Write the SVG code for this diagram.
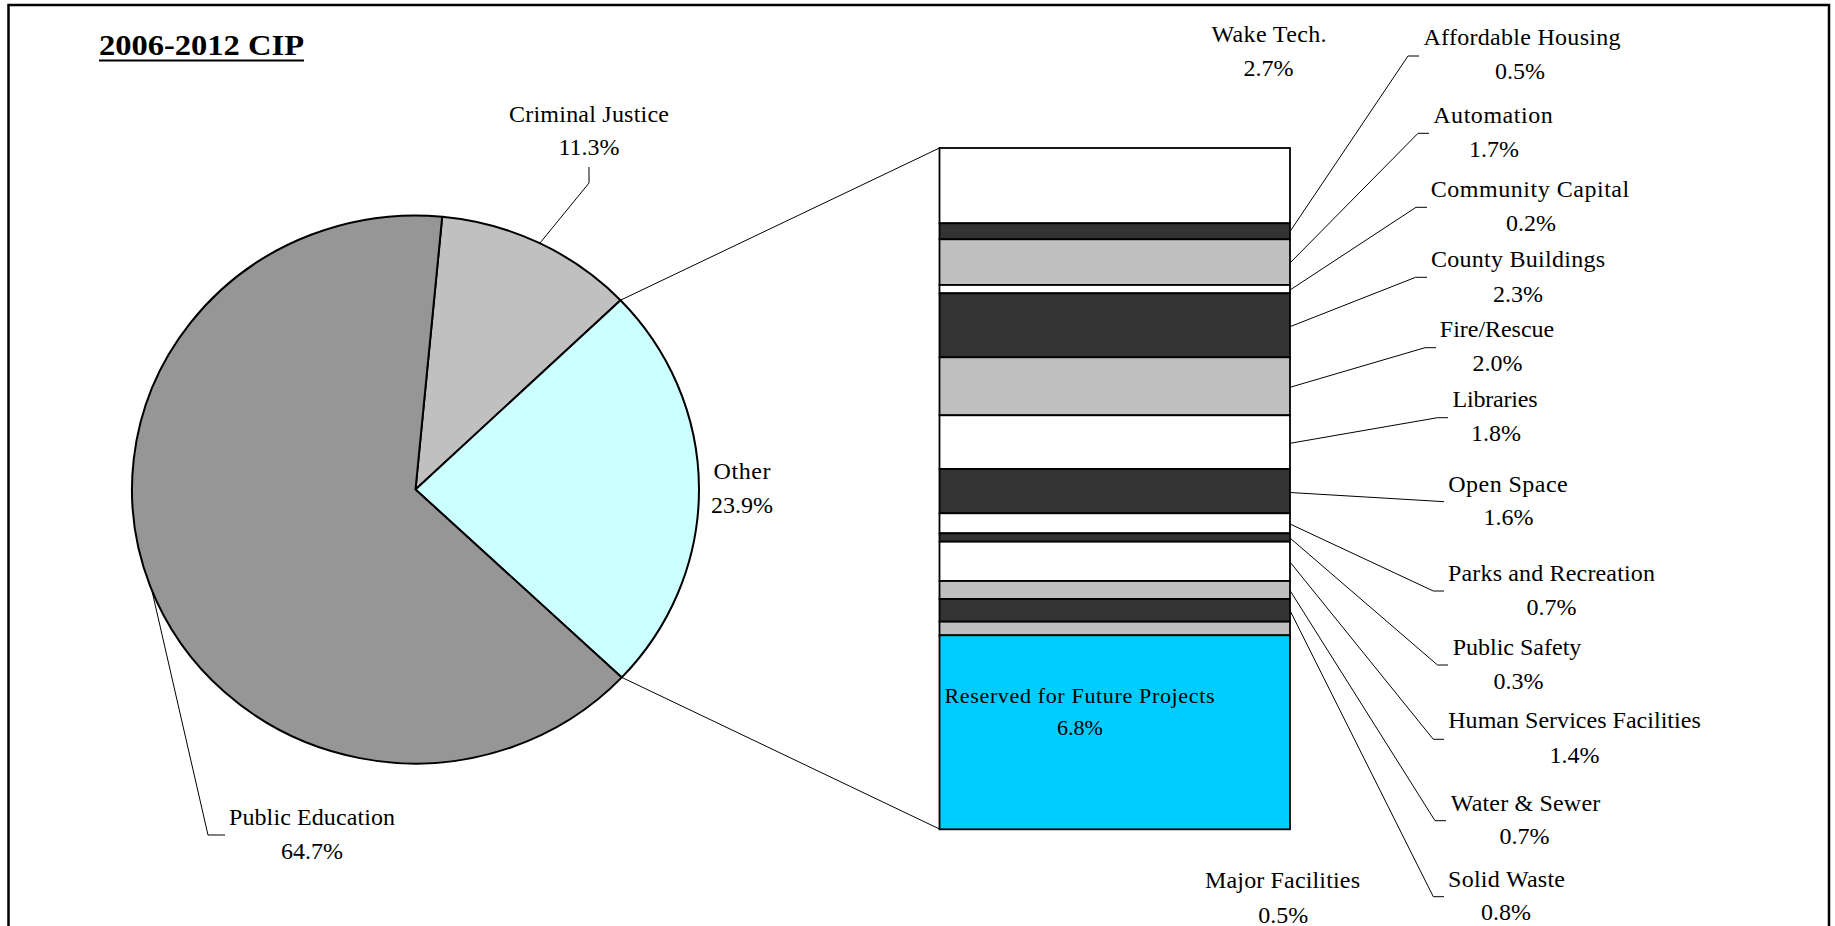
<svg xmlns="http://www.w3.org/2000/svg" width="1835" height="926" viewBox="0 0 1835 926">
<style>
text{font-family:"Liberation Serif","Times New Roman",serif;font-size:24px;fill:#000;text-anchor:middle}
.title{font-weight:bold;font-size:30px;text-anchor:start}
.res{font-size:22px}
.slice{stroke:#000;stroke-width:2;stroke-linejoin:round}
.seg{stroke:#000;stroke-width:1.8}
.lead{fill:none;stroke:#000;stroke-width:1}
</style>
<rect x="8.5" y="5" width="1820.5" height="940" fill="#fff" stroke="#000" stroke-width="2.5"/>
<g id="title">
<text class="title" x="99" y="55" textLength="205" lengthAdjust="spacingAndGlyphs">2006-2012 CIP</text>
<line x1="99" y1="60.5" x2="304" y2="60.5" stroke="#000" stroke-width="2"/>
</g>
<g id="pie">
<path id="slice-criminal-justice" class="slice" fill="#C0C0C0" d="M415.5 489.5 L442.2 216.7 A283.5 274 0 0 1 620.5 300.2 Z"/>
<path id="slice-other" class="slice" fill="#CCFFFF" d="M415.5 489.5 L620.5 300.2 A283.5 274 0 0 1 621.8 677.4 Z"/>
<path id="slice-public-education" class="slice" fill="#969696" d="M415.5 489.5 L621.8 677.4 A283.5 274 0 1 1 442.2 216.7 Z"/>
</g>
<g id="connectors">
<line class="lead" x1="620.5" y1="300.2" x2="939.5" y2="148"/>
<line class="lead" x1="621.8" y1="677.4" x2="939.5" y2="829"/>
<polyline class="lead" points="540,243 589,183 589,167"/>
<polyline class="lead" points="152,591 208,835 225,835"/>
<polyline class="lead" points="1290,231.5 1408,56 1419,56"/>
<polyline class="lead" points="1290,263 1418,133.3 1429,133.3"/>
<polyline class="lead" points="1290,290 1416,207.3 1427,207.3"/>
<polyline class="lead" points="1290,326.7 1415.6,277.3 1427,277.3"/>
<polyline class="lead" points="1290,387.3 1425,347.7 1436,347.7"/>
<polyline class="lead" points="1290,443.3 1437.5,417.7 1448,417.7"/>
<polyline class="lead" points="1290,492.5 1433,501 1444,501.7"/>
<polyline class="lead" points="1290,524 1433.3,591 1444,591"/>
<polyline class="lead" points="1290,538 1437.5,665 1448,665"/>
<polyline class="lead" points="1290,562 1433.3,739.3 1444,739.3"/>
<polyline class="lead" points="1290,590.5 1435,820.7 1446,820.7"/>
<polyline class="lead" points="1290,610.5 1433.3,896.7 1444,896.7"/>
</g>
<g id="bar">
<rect id="seg-wake-tech" class="seg" x="939.5" y="148" width="350.5" height="75.3" fill="#FFFFFF"/>
<rect id="seg-affordable-housing" class="seg" x="939.5" y="223.3" width="350.5" height="16" fill="#333333"/>
<rect id="seg-automation" class="seg" x="939.5" y="239.3" width="350.5" height="45.7" fill="#C0C0C0"/>
<rect id="seg-community-capital" class="seg" x="939.5" y="285" width="350.5" height="8.3" fill="#FFFFFF"/>
<rect id="seg-county-buildings" class="seg" x="939.5" y="293.3" width="350.5" height="64" fill="#333333"/>
<rect id="seg-fire-rescue" class="seg" x="939.5" y="357.3" width="350.5" height="58" fill="#C0C0C0"/>
<rect id="seg-libraries" class="seg" x="939.5" y="415.3" width="350.5" height="53.7" fill="#FFFFFF"/>
<rect id="seg-open-space" class="seg" x="939.5" y="469" width="350.5" height="44.3" fill="#333333"/>
<rect id="seg-parks" class="seg" x="939.5" y="513.3" width="350.5" height="20" fill="#FFFFFF"/>
<rect id="seg-public-safety" class="seg" x="939.5" y="533.3" width="350.5" height="8.4" fill="#333333"/>
<rect id="seg-human-services" class="seg" x="939.5" y="541.7" width="350.5" height="39.3" fill="#FFFFFF"/>
<rect id="seg-water-sewer" class="seg" x="939.5" y="581" width="350.5" height="18" fill="#C0C0C0"/>
<rect id="seg-solid-waste" class="seg" x="939.5" y="599" width="350.5" height="22.7" fill="#333333"/>
<rect id="seg-major-facilities" class="seg" x="939.5" y="621.7" width="350.5" height="13.6" fill="#C0C0C0"/>
<rect id="seg-reserved" class="seg" x="939.5" y="635.3" width="350.5" height="194" fill="#00CCFF"/>
</g>
<g id="label-criminal-justice"><text x="589" y="121.5" textLength="160">Criminal Justice</text><text x="589" y="154.5">11.3%</text></g>
<g id="label-other"><text x="742" y="478.5" textLength="57">Other</text><text x="742" y="512.5">23.9%</text></g>
<g id="label-public-education"><text x="312" y="825" textLength="166">Public Education</text><text x="312" y="858.5">64.7%</text></g>
<g id="label-wake-tech"><text x="1269" y="42.3" textLength="115">Wake Tech.</text><text x="1268.5" y="76">2.7%</text></g>
<g id="label-affordable-housing"><text x="1522" y="45" textLength="197">Affordable Housing</text><text x="1520" y="79.3">0.5%</text></g>
<g id="label-automation"><text x="1493" y="123.3" textLength="119.6">Automation</text><text x="1494" y="157.3">1.7%</text></g>
<g id="label-community-capital"><text x="1530" y="197.3" textLength="198.4">Community Capital</text><text x="1531" y="230.7">0.2%</text></g>
<g id="label-county-buildings"><text x="1518" y="266.7" textLength="174">County Buildings</text><text x="1518" y="301.7">2.3%</text></g>
<g id="label-fire-rescue"><text x="1497" y="337.3" textLength="114.3">Fire/Rescue</text><text x="1497.5" y="371">2.0%</text></g>
<g id="label-libraries"><text x="1495" y="406.7" textLength="85">Libraries</text><text x="1496" y="440.7">1.8%</text></g>
<g id="label-open-space"><text x="1508" y="491.7" textLength="119.4">Open Space</text><text x="1508.5" y="525">1.6%</text></g>
<g id="label-parks"><text x="1551.5" y="580.7" textLength="207">Parks and Recreation</text><text x="1551.5" y="615">0.7%</text></g>
<g id="label-public-safety"><text x="1517" y="655" textLength="128.6">Public Safety</text><text x="1518.5" y="689">0.3%</text></g>
<g id="label-human-services"><text x="1574.5" y="728.3" textLength="252.5">Human Services Facilities</text><text x="1574.5" y="762.7">1.4%</text></g>
<g id="label-water-sewer"><text x="1525.5" y="810.7" textLength="149.4">Water &amp; Sewer</text><text x="1524.5" y="844.3">0.7%</text></g>
<g id="label-solid-waste"><text x="1506.5" y="887.3" textLength="117">Solid Waste</text><text x="1506" y="920">0.8%</text></g>
<g id="label-major-facilities"><text x="1282.5" y="888.3" textLength="155">Major Facilities</text><text x="1283.3" y="922.7">0.5%</text></g>
<g id="label-reserved"><text class="res" x="1079.5" y="702.7" textLength="270">Reserved for Future Projects</text><text class="res" x="1080" y="735">6.8%</text></g>
</svg>
